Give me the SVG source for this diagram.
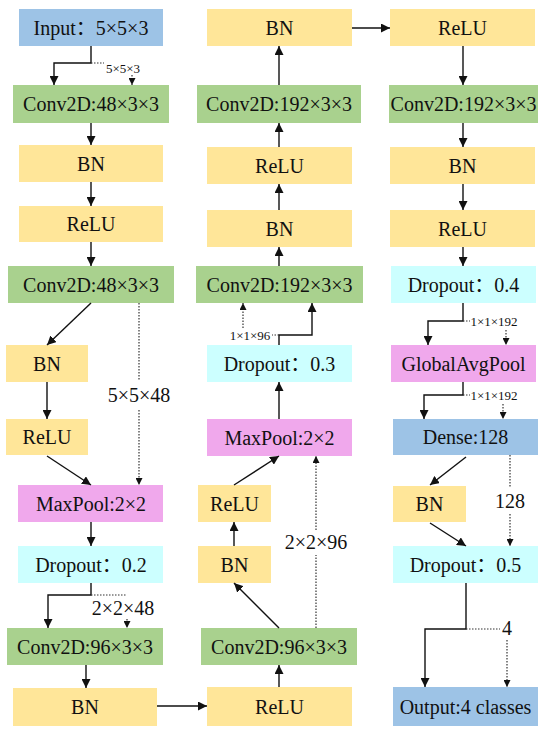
<svg xmlns="http://www.w3.org/2000/svg" width="550" height="732" viewBox="0 0 550 732">
<style>
text{font-family:"Liberation Serif","Times New Roman","Noto Sans CJK SC",serif;fill:#111;text-anchor:middle;dominant-baseline:central}
.t{font-size:20px}
.s{font-size:13px}
.blue{fill:#9DC3E6}.green{fill:#A9D18E}.yel{fill:#FFE699}.pink{fill:#F0A8EC}.cyan{fill:#CCFFFF}
.c{fill:none;stroke:#111;stroke-width:1.4}
.d{fill:none;stroke:#333;stroke-width:1.2;stroke-dasharray:1.5 1.5}
</style>
<defs>
<marker id="a" viewBox="0 0 10 10" refX="10" refY="5" markerWidth="9" markerHeight="9" markerUnits="userSpaceOnUse" orient="auto"><path d="M0,0 L10,5 L0,10 z" fill="#111"/></marker>
<marker id="b" viewBox="0 0 10 10" refX="10" refY="5" markerWidth="7" markerHeight="7" markerUnits="userSpaceOnUse" orient="auto"><path d="M0,0 L10,5 L0,10 z" fill="#111"/></marker>
</defs>
<g id="nodes">
<g id="input"><rect class="blue" x="19" y="9" width="144" height="37"/><text class="t" x="91" y="28">Input：5×5×3</text></g>
<g id="l_conv1"><rect class="green" x="13" y="85" width="156" height="38"/><text class="t" x="91" y="104">Conv2D:48×3×3</text></g>
<g id="l_bn1"><rect class="yel" x="19" y="145" width="144" height="37"/><text class="t" x="91" y="164">BN</text></g>
<g id="l_relu1"><rect class="yel" x="19" y="206" width="144" height="36"/><text class="t" x="91" y="224">ReLU</text></g>
<g id="l_conv2"><rect class="green" x="8" y="266" width="166" height="37"/><text class="t" x="91" y="285">Conv2D:48×3×3</text></g>
<g id="l_bn2"><rect class="yel" x="6" y="345" width="82" height="37"/><text class="t" x="47" y="364">BN</text></g>
<g id="l_relu2"><rect class="yel" x="6" y="419" width="82" height="36"/><text class="t" x="47" y="437">ReLU</text></g>
<g id="l_maxpool"><rect class="pink" x="18" y="485" width="145" height="37"/><text class="t" x="91" y="504">MaxPool:2×2</text></g>
<g id="l_dropout"><rect class="cyan" x="18" y="546" width="145" height="37"/><text class="t" x="91" y="565">Dropout：0.2</text></g>
<g id="l_conv3"><rect class="green" x="7" y="628" width="156" height="37"/><text class="t" x="85" y="647">Conv2D:96×3×3</text></g>
<g id="l_bn3"><rect class="yel" x="13" y="688" width="144" height="38"/><text class="t" x="85" y="707">BN</text></g>

<g id="m_bn_top"><rect class="yel" x="207" y="9" width="145" height="37"/><text class="t" x="279.5" y="28">BN</text></g>
<g id="m_conv_top"><rect class="green" x="197" y="85" width="164" height="38"/><text class="t" x="279" y="104">Conv2D:192×3×3</text></g>
<g id="m_relu1"><rect class="yel" x="207" y="147" width="145" height="37"/><text class="t" x="279.5" y="166">ReLU</text></g>
<g id="m_bn1"><rect class="yel" x="207" y="210" width="145" height="37"/><text class="t" x="279.5" y="229">BN</text></g>
<g id="m_conv2"><rect class="green" x="196" y="266" width="167" height="37"/><text class="t" x="279.5" y="285">Conv2D:192×3×3</text></g>
<g id="m_dropout"><rect class="cyan" x="207" y="345" width="145" height="37"/><text class="t" x="279.5" y="364">Dropout：0.3</text></g>
<g id="m_maxpool"><rect class="pink" x="207" y="419" width="145" height="37"/><text class="t" x="279.5" y="438">MaxPool:2×2</text></g>
<g id="m_relu2"><rect class="yel" x="198" y="485" width="73" height="37"/><text class="t" x="234.5" y="504">ReLU</text></g>
<g id="m_bn2"><rect class="yel" x="198" y="546" width="73" height="37"/><text class="t" x="234.5" y="565">BN</text></g>
<g id="m_conv3"><rect class="green" x="201" y="628" width="156" height="37"/><text class="t" x="279" y="647">Conv2D:96×3×3</text></g>
<g id="m_relu3"><rect class="yel" x="207" y="687" width="145" height="39"/><text class="t" x="279.5" y="707">ReLU</text></g>

<g id="r_relu1"><rect class="yel" x="390" y="9" width="145" height="37"/><text class="t" x="462.5" y="28">ReLU</text></g>
<g id="r_conv"><rect class="green" x="389" y="85" width="149" height="38"/><text class="t" x="463.5" y="104">Conv2D:192×3×3</text></g>
<g id="r_bn1"><rect class="yel" x="390" y="147" width="145" height="37"/><text class="t" x="462.5" y="166">BN</text></g>
<g id="r_relu2"><rect class="yel" x="390" y="210" width="145" height="37"/><text class="t" x="462.5" y="229">ReLU</text></g>
<g id="r_dropout1"><rect class="cyan" x="391" y="266" width="145" height="37"/><text class="t" x="463.5" y="285">Dropout：0.4</text></g>
<g id="r_gap"><rect class="pink" x="391" y="345" width="145" height="37"/><text class="t" x="463.5" y="364">GlobalAvgPool</text></g>
<g id="r_dense"><rect class="blue" x="393" y="419" width="145" height="36"/><text class="t" x="465.5" y="437">Dense:128</text></g>
<g id="r_bn2"><rect class="yel" x="393" y="486" width="73" height="36"/><text class="t" x="429.5" y="504">BN</text></g>
<g id="r_dropout2"><rect class="cyan" x="393" y="546" width="145" height="37"/><text class="t" x="465.5" y="565">Dropout：0.5</text></g>
<g id="r_output"><rect class="blue" x="393" y="687" width="145" height="39"/><text class="t" x="465.5" y="707">Output:4 classes</text></g>
</g>

<g id="connectors">
<!-- left column -->
<path class="c" d="M91,46 V63 H54 V85" marker-end="url(#a)"/>
<path class="d" d="M91,63 H104"/>
<text class="s" x="123" y="68">5×5×3</text>
<path class="d" d="M132,75 V85" marker-end="url(#b)"/>
<path class="c" d="M91,123 V145" marker-end="url(#a)"/>
<path class="c" d="M91,182 V206" marker-end="url(#a)"/>
<path class="c" d="M91,242 V266" marker-end="url(#a)"/>
<path class="c" d="M91,303 L47,345" marker-end="url(#a)"/>
<path class="c" d="M47,382 V419" marker-end="url(#a)"/>
<path class="d" d="M139,303 V381 M139,410 V485" marker-end="url(#b)"/>
<text class="t" x="139" y="395">5×5×48</text>
<path class="c" d="M47,456 L91,485" marker-end="url(#a)"/>
<path class="c" d="M91,522 V546" marker-end="url(#a)"/>
<path class="c" d="M91,583 V595 H48 V628" marker-end="url(#a)"/>
<path class="d" d="M91,595 H127"/>
<text class="t" x="123" y="608">2×2×48</text>
<path class="d" d="M127,619 V628" marker-end="url(#b)"/>
<path class="c" d="M86,665 V688" marker-end="url(#a)"/>
<path class="c" d="M157,706 H207" marker-end="url(#a)"/>
<!-- middle column -->
<path class="c" d="M279,687 V665" marker-end="url(#a)"/>
<path class="c" d="M279,628 L234,583" marker-end="url(#a)"/>
<path class="c" d="M234,546 V522" marker-end="url(#a)"/>
<path class="c" d="M234,485 L279,456" marker-end="url(#a)"/>
<path class="d" d="M316,628 V555 M316,530 V456" marker-end="url(#b)"/>
<text class="t" x="316" y="542">2×2×96</text>
<path class="c" d="M279,419 V382" marker-end="url(#a)"/>
<path class="c" d="M279,345 V335 H312 V303" marker-end="url(#a)"/>
<path class="d" d="M279,335 H272"/>
<text class="s" x="250" y="335">1×1×96</text>
<path class="d" d="M243,328 V303" marker-end="url(#b)"/>
<path class="c" d="M279,266 V247" marker-end="url(#a)"/>
<path class="c" d="M279,210 V184" marker-end="url(#a)"/>
<path class="c" d="M279,147 V123" marker-end="url(#a)"/>
<path class="c" d="M279,85 V46" marker-end="url(#a)"/>
<path class="c" d="M352,28 H390" marker-end="url(#a)"/>
<!-- right column -->
<path class="c" d="M463,46 V85" marker-end="url(#a)"/>
<path class="c" d="M463,123 V147" marker-end="url(#a)"/>
<path class="c" d="M463,184 V210" marker-end="url(#a)"/>
<path class="c" d="M463,247 V266" marker-end="url(#a)"/>
<path class="c" d="M463,303 V321 H428 V345" marker-end="url(#a)"/>
<path class="d" d="M463,321 H470"/>
<text class="s" x="494" y="321">1×1×192</text>
<path class="d" d="M506,330 V345" marker-end="url(#b)"/>
<path class="c" d="M463,382 V395 H424 V419" marker-end="url(#a)"/>
<path class="d" d="M463,395 H470"/>
<text class="s" x="494" y="395">1×1×192</text>
<path class="d" d="M503,404 V419" marker-end="url(#b)"/>
<path class="c" d="M466,457 L430,485" marker-end="url(#a)"/>
<path class="d" d="M510,455 V488 M510,514 V546" marker-end="url(#b)"/>
<text class="t" x="510" y="501">128</text>
<path class="c" d="M430,523 L466,546" marker-end="url(#a)"/>
<path class="c" d="M466,583 V629 H425 V687" marker-end="url(#a)"/>
<path class="d" d="M466,629 H500"/>
<text class="t" x="507" y="628">4</text>
<path class="d" d="M507,640 V687" marker-end="url(#b)"/>
</g>
</svg>
